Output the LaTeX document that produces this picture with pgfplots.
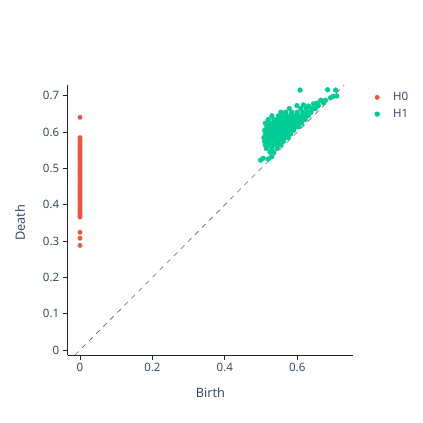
\documentclass[border=0pt]{standalone}
\usepackage{pgfplots}
\pgfplotsset{compat=1.18}
\usepackage{fontspec}
\setmainfont{Open Sans}
\definecolor{hzero}{RGB}{239,85,59}
\definecolor{hone}{RGB}{0,204,150}
\definecolor{plfont}{RGB}{42,63,95}
\definecolor{plline}{RGB}{36,36,36}
\begin{document}
\begin{tikzpicture}[x=1pt,y=1pt]
\useasboundingbox (0,0) rectangle (423,423);
\begin{axis}[
    at={(67.7pt,68pt)}, anchor=south west,
    scale only axis, width=285.3pt, height=270pt,
    xmin=-0.034, xmax=0.754, ymin=-0.014, ymax=0.73,
    axis x line*=bottom, axis y line*=left,
    axis line style={-, plline, line width=0.8pt},
    every tick/.style={plline, line width=0.8pt},
    tick align=outside, major tick length=5pt,
    xtick={0,0.2,0.4,0.6}, ytick={0,0.1,0.2,0.3,0.4,0.5,0.6,0.7},
    /pgf/number format/assume math mode=true,
    tick label style={font=\fontsize{11.5}{13}\selectfont, text=plfont},
    xlabel={Birth}, ylabel={Death},
    label style={font=\fontsize{12.8}{15}\selectfont, text=plfont},
    xlabel style={at={(axis description cs:0.5,-0.141)}, anchor=center},
    ylabel style={at={(axis description cs:-0.167,0.49)}, anchor=center, rotate=0},
    legend style={at={(axis description cs:1.0525,0.988)}, anchor=north west,
                  draw=none, fill=none, font=\fontsize{11.5}{13}\selectfont,
                  text=plfont, row sep=3pt},
    legend cell align=left,
    legend image code/.code={
        \path[draw=none, fill=none] (0pt,-1pt) rectangle (20pt,1pt);
        \draw[#1, only marks] plot coordinates {(6pt,0pt)};},
    clip=false,
]
% diagonal
\addplot[gray!80!black, line width=0.6pt, dash pattern=on 5pt off 5pt, forget plot]
  coordinates {(-0.014,-0.014) (0.73,0.73)};
% H0
\addplot[only marks, mark=*, mark size=2.2pt, color=hzero, mark options={draw=none, fill=hzero}]
  coordinates {
  (0,0.641) (0,0.585) (0,0.580) (0,0.575) (0,0.570) (0,0.565) (0,0.560)
  (0,0.555) (0,0.550) (0,0.545) (0,0.540) (0,0.535) (0,0.530) (0,0.525)
  (0,0.520) (0,0.515) (0,0.510) (0,0.505) (0,0.500) (0,0.495) (0,0.490)
  (0,0.485) (0,0.480) (0,0.475) (0,0.470) (0,0.465) (0,0.460) (0,0.455)
  (0,0.450) (0,0.445) (0,0.440) (0,0.435) (0,0.430) (0,0.425) (0,0.420)
  (0,0.415) (0,0.410) (0,0.405) (0,0.400) (0,0.395) (0,0.390) (0,0.385)
  (0,0.380) (0,0.375) (0,0.370) (0,0.366) (0,0.324) (0,0.308) (0,0.288)
  };
\addlegendentry{H0}
% H1
\addplot[only marks, mark=*, mark size=2.4pt, color=hone, mark options={draw=none, fill=hone}]
  coordinates {
  (0.499,0.523) (0.506,0.528) (0.520,0.526) (0.529,0.532)
  (0.525,0.545) (0.535,0.545)
  (0.515,0.555) (0.530,0.555) (0.545,0.555)
  (0.512,0.565) (0.522,0.565) (0.535,0.565) (0.548,0.565) (0.555,0.565)
  (0.510,0.575) (0.520,0.575) (0.530,0.575) (0.540,0.575) (0.552,0.575) (0.562,0.575)
  (0.508,0.585) (0.518,0.585) (0.528,0.585) (0.538,0.585) (0.548,0.585) (0.558,0.585) (0.568,0.585) (0.575,0.585)
  (0.512,0.595) (0.522,0.595) (0.532,0.595) (0.542,0.595) (0.552,0.595) (0.562,0.595) (0.572,0.595) (0.582,0.595)
  (0.510,0.605) (0.520,0.605) (0.530,0.605) (0.540,0.605) (0.550,0.605) (0.560,0.605) (0.570,0.605) (0.580,0.605) (0.590,0.605)
  (0.516,0.615) (0.526,0.615) (0.536,0.615) (0.546,0.615) (0.556,0.615) (0.566,0.615) (0.576,0.615) (0.586,0.615) (0.596,0.615) (0.604,0.615)
  (0.512,0.625) (0.524,0.625) (0.534,0.625) (0.544,0.625) (0.554,0.625) (0.564,0.625) (0.574,0.625) (0.584,0.625) (0.594,0.625) (0.604,0.625) (0.612,0.625)
  (0.520,0.635) (0.535,0.635) (0.545,0.635) (0.555,0.635) (0.565,0.635) (0.575,0.635) (0.585,0.635) (0.595,0.635) (0.605,0.635) (0.615,0.635) (0.622,0.635)
  (0.530,0.645) (0.548,0.645) (0.560,0.645) (0.570,0.645) (0.580,0.645) (0.592,0.645) (0.602,0.645) (0.612,0.645) (0.622,0.645) (0.630,0.645)
  (0.555,0.655) (0.568,0.655) (0.585,0.655) (0.600,0.655) (0.615,0.655) (0.628,0.655) (0.638,0.655)
  (0.578,0.665) (0.610,0.665) (0.625,0.665) (0.640,0.665) (0.650,0.665)
  (0.599,0.673) (0.617,0.675) (0.631,0.672) (0.645,0.678) (0.658,0.673)
  (0.655,0.680) (0.672,0.681) (0.665,0.688) (0.678,0.688) (0.692,0.695)
  (0.700,0.699) (0.709,0.700) (0.608,0.716) (0.684,0.717) (0.706,0.716)
  };
\addlegendentry{H1}
\end{axis}
\end{tikzpicture}
\end{document}
